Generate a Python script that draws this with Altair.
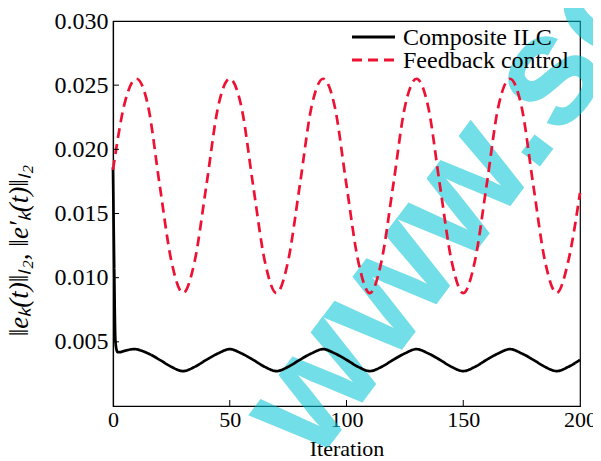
import altair as alt
import pandas as pd

# ---------------- data ----------------
names = ["Composite ILC", "Feedback control"]
colors = ["#000000", "#ee1133"]
dashes = [[1, 0], [10, 6]]

iter_ilc = [0, 0.5, 1, 1.5, 2, 3, 5, 9, 15, 20, 25, 30, 35, 40, 45, 50, 55, 60, 65, 70,
            75, 80, 85, 90, 95, 100, 105, 110, 115, 120, 125, 130, 135, 140, 145, 150,
            155, 160, 165, 170, 175, 180, 185, 190, 195, 200]
err_ilc = [0.0186, 0.0110, 0.0052, 0.0044, 0.0042, 0.0042, 0.0043, 0.00443, 0.0041, 0.0036,
           0.00305, 0.00272, 0.00305, 0.0036, 0.0041, 0.00443, 0.0041, 0.0036, 0.00305, 0.00272,
           0.00305, 0.0036, 0.0041, 0.00443, 0.0041, 0.0036, 0.00305, 0.00272, 0.00305, 0.0036,
           0.0041, 0.00443, 0.0041, 0.0036, 0.00305, 0.00272, 0.00305, 0.0036, 0.0041, 0.00443,
           0.0041, 0.0036, 0.00305, 0.00272, 0.00305, 0.0036]

iter_fb = [0, 5, 10, 15, 20, 25, 30, 35, 40, 45, 50, 55, 60, 65, 70, 75, 80, 85, 90, 95,
           100, 105, 110, 115, 120, 125, 130, 135, 140, 145, 150, 155, 160, 165, 170, 175,
           180, 185, 190, 195, 200]
err_fb = [0.0184, 0.0236, 0.0255, 0.0234, 0.0172, 0.0113, 0.0088, 0.0113, 0.0172, 0.0233,
          0.0255, 0.0233, 0.0172, 0.0113, 0.0088, 0.0113, 0.0172, 0.0233, 0.0255, 0.0233,
          0.0172, 0.0113, 0.0088, 0.0113, 0.0172, 0.0233, 0.0255, 0.0233, 0.0172, 0.0113,
          0.0088, 0.0113, 0.0172, 0.0233, 0.0255, 0.0233, 0.0172, 0.0113, 0.0088, 0.0113,
          0.0166]

x_ticks = [0, 50, 100, 150, 200]
y_ticks = [0.005, 0.010, 0.015, 0.020, 0.025, 0.030]
x_inner_ticks = [50, 100, 150]
y_inner_ticks = [0.005, 0.010, 0.015, 0.020, 0.025]
watermark = ["www.sc"]

# ---------------- tables ----------------
df = pd.concat([
    pd.DataFrame({"iter": iter_ilc, "err": err_ilc, "series": names[0]}),
    pd.DataFrame({"iter": iter_fb, "err": err_fb, "series": names[1]}),
], ignore_index=True)

W, H = 467, 385
SERIF = "Liberation Serif"

xscale = alt.Scale(domain=[0, 200], nice=False, zero=False)
yscale = alt.Scale(domain=[0, 0.03], nice=False, zero=False)
cscale = alt.Scale(domain=names, range=colors)
dscale = alt.Scale(domain=names, range=dashes)
xaxis = alt.Axis(values=x_ticks, title="Iteration", format="d", labelFontSize=22, labelFlush=False)
yaxis = alt.Axis(values=y_ticks, format=".3f", title="‖eₖ(t)‖ₗ₂, ‖e′ₖ(t)‖ₗ₂", labelFontSize=24)

wm = alt.Chart(pd.DataFrame({"t": watermark})).mark_text(
    angle=307, font="Liberation Sans", fontWeight="bold", fontSize=158,
    color="#00c4d4", opacity=0.55, align="center", baseline="middle",
).encode(text="t:N", x=alt.value(340), y=alt.value(183))

lines = alt.Chart(df).mark_line(strokeWidth=2.7, interpolate="monotone").encode(
    x=alt.X("iter:Q", scale=xscale, axis=xaxis),
    y=alt.Y("err:Q", scale=yscale, axis=yaxis),
    color=alt.Color("series:N", scale=cscale, legend=None),
    strokeDash=alt.StrokeDash("series:N", scale=dscale, legend=None),
    order=alt.Order("iter:Q"),
)

xt = alt.Chart(pd.DataFrame({"iter": x_inner_ticks})).mark_rule(color="black", strokeWidth=1).encode(
    x=alt.X("iter:Q", scale=xscale, axis=xaxis), y=alt.value(H), y2=alt.value(H - 6))
yt = alt.Chart(pd.DataFrame({"err": y_inner_ticks})).mark_rule(color="black", strokeWidth=1).encode(
    y=alt.Y("err:Q", scale=yscale, axis=yaxis), x=alt.value(0), x2=alt.value(6))

# manual legend (top-right, no frame)
legend_layers = []
for i, name in enumerate(names):
    row = pd.DataFrame({"series": [name]})
    ypos = 16 + 23 * i
    sym = alt.Chart(row).mark_rule(strokeWidth=3).encode(
        x=alt.value(239), x2=alt.value(282), y=alt.value(ypos),
        color=alt.Color("series:N", scale=cscale, legend=None),
        strokeDash=alt.StrokeDash("series:N", scale=dscale, legend=None),
    )
    lab = alt.Chart(row).mark_text(
        font=SERIF, fontSize=24, color="black", align="left", baseline="middle",
    ).encode(text="series:N", x=alt.value(290), y=alt.value(ypos + 1))
    legend_layers += [sym, lab]

chart = alt.layer(wm, lines, xt, yt, *legend_layers).properties(
    width=W, height=H,
    autosize=alt.AutoSizeParams(type="none"),
    padding={"left": 105, "top": 13, "right": 13, "bottom": 55},
).configure_view(stroke="black", strokeWidth=1.2).configure_axis(
    labelFont=SERIF, labelColor="black",
    titleFont=SERIF, titleFontSize=22, titleColor="black", titleFontWeight="normal",
    domainColor="black", domainWidth=1.2, ticks=False, grid=False, zindex=1,
).configure_axisX(
    labelPadding=3, titlePadding=8,
).configure_axisY(
    labelPadding=5, titleFontStyle="italic", titleFontSize=27, titleAngle=270,
    titleX=-94, titleY=229, titleAlign="center", titleBaseline="middle",
)

chart.save("out.html", embed_options={"renderer": "svg", "actions": False})
